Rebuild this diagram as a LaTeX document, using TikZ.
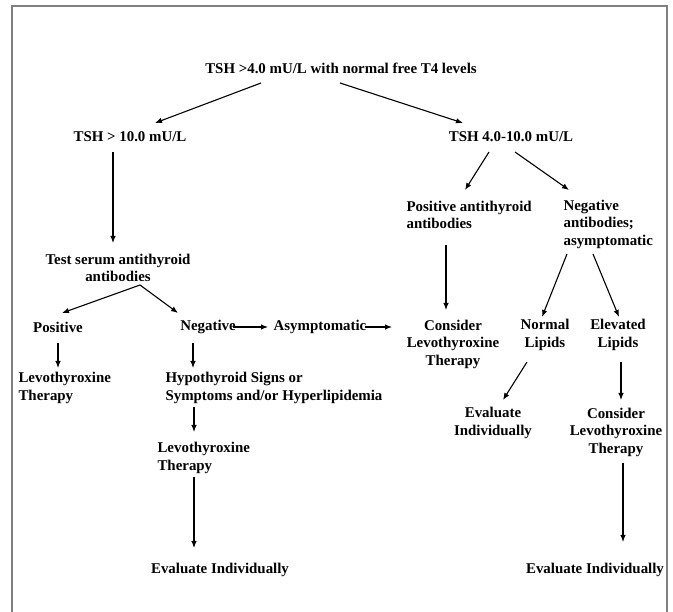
\documentclass[tikz,border=0pt]{standalone}
\usepackage{fontspec}
\setmainfont{Liberation Serif}
\usetikzlibrary{arrows.meta}
\begin{document}
\begin{tikzpicture}[>={Latex[length=7pt,width=5.5pt]}, x=1pt, y=-1pt, line width=1.1pt,
  every node/.style={font=\bfseries\fontsize{14.9}{17.5}\selectfont, inner sep=0pt},
  box/.style={align=center}, lbox/.style={align=left, anchor=west}]
\useasboundingbox (0,0) rectangle (673,612);
\draw[gray, line width=1.6pt](12,612)--(12,6)--(667,6)--(667,612);

% left branch
\node (top) at (341,68) {TSH >4.0 mU/L with normal free T4 levels};
\node (high) at (130,137) {TSH > 10.0 mU/L};
\node[box] (test) at (118,268) {Test serum antithyroid\\antibodies};
\node (pos) at (58,327) {Positive};
\node (neg) at (208,327) {Negative};
\node (asym) at (320,327) {Asymptomatic};
\node[lbox] (levoA) at (18,388) {Levothyroxine\\Therapy};
\node[lbox] (hypo) at (165,388) {Hypothyroid Signs or\\Symptoms and/or Hyperlipidemia};
\node[lbox] (levoB) at (157,458) {Levothyroxine\\Therapy};
\node (evalA) at (220,570) {Evaluate Individually};

% right branch
\node (mid) at (511,137) {TSH 4.0-10.0 mU/L};
\node[lbox] (posab) at (406,215) {Positive antithyroid\\antibodies};
\node[lbox] (negab) at (563,224) {Negative\\antibodies;\\asymptomatic};
\node[box] (consA) at (453,344) {Consider\\Levothyroxine\\Therapy};
\node[box] (normal) at (545,335) {Normal\\Lipids};
\node[box] (elev) at (618,335) {Elevated\\Lipids};
\node[box] (evalB) at (493,423) {Evaluate\\Individually};
\node[box] (consB) at (616,432) {Consider\\Levothyroxine\\Therapy};
\node (evalC) at (595,570) {Evaluate Individually};

\draw[->]([xshift=-80pt,yshift=-15pt]top.center)--([xshift=25pt,yshift=14pt]high.center);
\draw[->]([xshift=-1pt,yshift=-15pt]top.center)--([xshift=-48pt,yshift=14pt]mid.center);
\draw[->]([xshift=-17pt,yshift=-15pt]high.center)--([xshift=-5pt,yshift=25pt]test.center);
\draw[->]([xshift=22pt,yshift=-17pt]test.center)--([xshift=4pt,yshift=14pt]pos.center);
\draw[->]([xshift=22pt,yshift=-17pt]test.center)--([xshift=-30pt,yshift=14pt]neg.center);
\draw[->]([xshift=25pt]neg.center)--([xshift=-52pt]asym.center);
\draw[->]([xshift=45pt]asym.center)--([xshift=-61pt,yshift=17pt]consA.center);
\draw[->]([yshift=-16pt]pos.center)--([xshift=40pt,yshift=20pt]levoA.west);
\draw[->]([xshift=-15pt,yshift=-16pt]neg.center)--([xshift=28pt,yshift=20pt]hypo.west);
\draw[->]([xshift=29pt,yshift=-19pt]hypo.west)--([xshift=37pt,yshift=26pt]levoB.west);
\draw[->]([xshift=37pt,yshift=-19pt]levoB.west)--([xshift=-26pt,yshift=22pt]evalA.center);

\draw[->]([xshift=-22pt,yshift=-15pt]mid.center)--([xshift=59pt,yshift=25pt]posab.west);
\draw[->]([xshift=4pt,yshift=-15pt]mid.center)--([xshift=6pt,yshift=34pt]negab.west);
\draw[->]([xshift=40pt,yshift=-30pt]posab.west)--([xshift=-7pt,yshift=34pt]consA.center);
\draw[->]([xshift=4pt,yshift=-30pt]negab.west)--([xshift=-3pt,yshift=18pt]normal.center);
\draw[->]([xshift=30pt,yshift=-30pt]negab.west)--([xshift=1pt,yshift=18pt]elev.center);
\draw[->]([xshift=-18pt,yshift=-27pt]normal.center)--([xshift=10pt,yshift=23pt]evalB.center);
\draw[->]([xshift=3pt,yshift=-27pt]elev.center)--([xshift=5pt,yshift=32pt]consB.center);
\draw[->]([xshift=7pt,yshift=-31pt]consB.center)--([xshift=28pt,yshift=28pt]evalC.center);
\end{tikzpicture}
\end{document}
